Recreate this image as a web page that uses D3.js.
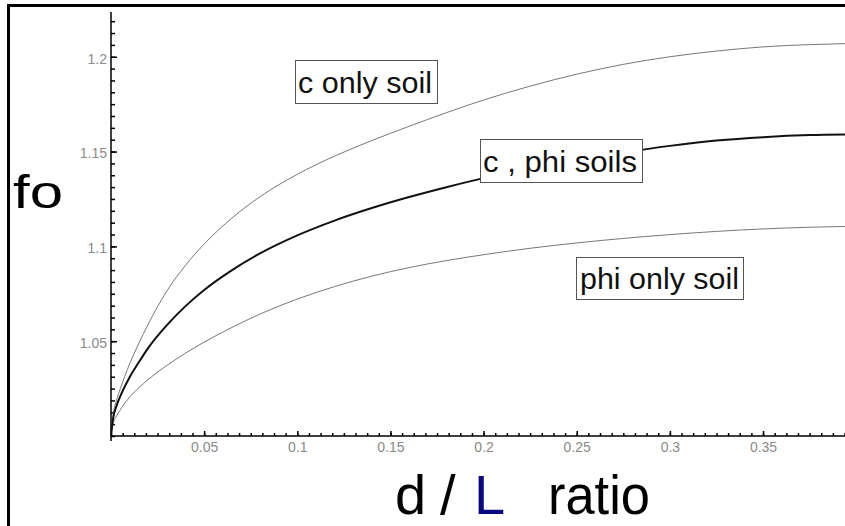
<!DOCTYPE html>
<html>
<head>
<meta charset="utf-8">
<script src="https://cdn.jsdelivr.net/npm/d3@7"></script>
<style>
  body { margin: 0; background: #fff; }
  svg { display: block; font-family: "Liberation Sans", Arial, sans-serif; }
  .domain { stroke: #000; stroke-width: 1.5; }
  .tick line { stroke: #000; stroke-width: 1.5; }
</style>
</head>
<body>
<div id="chart"></div>
<script>
// page size
var width = 845,
    height = 526;

// d / L ratio values the curves were read at
var ratio = [0, 0.001, 0.003, 0.005, 0.01, 0.015, 0.02, 0.03, 0.04, 0.05, 0.065, 0.08, 0.1,
             0.12, 0.14, 0.16, 0.18, 0.2, 0.225, 0.25, 0.275, 0.3, 0.325, 0.35, 0.375, 0.394];

// fo for the three soil types
var cOnly = [1.0, 1.010, 1.019, 1.025, 1.038, 1.049, 1.059, 1.0765, 1.090, 1.1012, 1.115, 1.1262, 1.138,
             1.1476, 1.1558, 1.1633, 1.1705, 1.1772, 1.1845, 1.1908, 1.196, 1.200, 1.203, 1.2052, 1.2064, 1.2069];
var cPhi = [1.0, 1.0085, 1.016, 1.021, 1.031, 1.039, 1.0465, 1.0585, 1.0685, 1.077, 1.0875, 1.0963, 1.1058,
            1.1136, 1.1202, 1.126, 1.1312, 1.136, 1.141, 1.1455, 1.1495, 1.153, 1.1558, 1.1576, 1.1587, 1.159];
var phiOnly = [1.0, 1.006, 1.0105, 1.0138, 1.0205, 1.0255, 1.0298, 1.0372, 1.0437, 1.0495, 1.0573, 1.0643, 1.0722,
               1.0788, 1.0843, 1.0888, 1.0925, 1.0956, 1.099, 1.1018, 1.1042, 1.1062, 1.1079, 1.1092, 1.1101, 1.1105];

// tick labels
var xTicks = [0.05, 0.1, 0.15, 0.2, 0.25, 0.3, 0.35];
var yTicks = [1.05, 1.1, 1.15, 1.2];

// curve labels
var labels = ["c only soil", "c , phi soils", "phi only soil"];

var svg = d3.select("#chart")
    .append("svg")
    .attr("width", width)
    .attr("height", height);

// frame lines on top and left
svg.append("line").attr("x1", 7).attr("x2", width).attr("y1", 5.5).attr("y2", 5.5)
    .attr("stroke", "#000").attr("stroke-width", 3);
svg.append("line").attr("x1", 8.5).attr("x2", 8.5).attr("y1", 4).attr("y2", height)
    .attr("stroke", "#000").attr("stroke-width", 3);

var x = d3.scaleLinear().domain([0, 0.394]).range([111, 845]);
var y = d3.scaleLinear().domain([1.0, 1.2236]).range([436, 12]);

// minor ticks every 1/8 of a major step
var xMinor = d3.range(0, 0.394, 0.00625);
var yMinor = d3.range(1.0, 1.2236, 0.00625);

svg.append("g")
    .attr("transform", "translate(0,436)")
    .call(d3.axisBottom(x).tickValues(xMinor).tickSize(-3).tickFormat(""))
    .select(".domain").remove();
var xAxis = svg.append("g")
    .attr("transform", "translate(0,436)")
    .call(d3.axisBottom(x).tickValues(xTicks).tickSize(-5).tickPadding(6)
        .tickFormat(d3.format("~g")));
xAxis.select(".domain").attr("d", "M111,0H845");

svg.append("g")
    .attr("transform", "translate(111,0)")
    .call(d3.axisLeft(y).tickValues(yMinor).tickSize(-4).tickFormat(""))
    .select(".domain").remove();
var yAxis = svg.append("g")
    .attr("transform", "translate(111,0)")
    .call(d3.axisLeft(y).tickValues(yTicks).tickSize(-6).tickPadding(4)
        .tickFormat(d3.format("~g")));
yAxis.select(".domain").attr("d", "M0,12V441");

svg.selectAll(".tick text")
    .attr("font-size", "14px")
    .attr("fill", "#8a8a8a");
yAxis.selectAll(".tick text").attr("dy", "0.45em");

// the three curves
var series = [
    { values: cOnly, color: "#777", w: 1 },
    { values: phiOnly, color: "#777", w: 1 },
    { values: cPhi, color: "#111", w: 2 }
];

var line = d3.line()
    .x(function(d, i) { return x(ratio[i]); })
    .y(function(d) { return y(d); })
    .curve(d3.curveMonotoneX);

svg.selectAll(".curve")
    .data(series)
    .enter()
    .append("path")
    .attr("class", "curve")
    .attr("fill", "none")
    .attr("stroke", function(d) { return d.color; })
    .attr("stroke-width", function(d) { return d.w; })
    .attr("d", function(d) { return line(d.values); });

// boxed labels (white fill hides the curve behind)
var boxes = [
    { x: 295, y: 60, w: 142, h: 43, tx: 298, ty: 92.5, tl: 134 },
    { x: 480, y: 139, w: 162, h: 43, tx: 483, ty: 171.5, tl: 154 },
    { x: 576, y: 257, w: 167, h: 42, tx: 580, ty: 289, tl: 159 }
];

var label = svg.selectAll(".label")
    .data(boxes)
    .enter()
    .append("g")
    .attr("class", "label");

label.append("rect")
    .attr("x", function(d) { return d.x + 0.5; })
    .attr("y", function(d) { return d.y + 0.5; })
    .attr("width", function(d) { return d.w; })
    .attr("height", function(d) { return d.h; })
    .attr("fill", "#fff")
    .attr("stroke", "#555")
    .attr("stroke-width", 1);

label.append("text")
    .attr("x", function(d) { return d.tx; })
    .attr("y", function(d) { return d.ty; })
    .attr("font-size", "29px")
    .attr("fill", "#111")
    .attr("textLength", function(d) { return d.tl; })
    .attr("lengthAdjust", "spacingAndGlyphs")
    .text(function(d, i) { return labels[i]; });

// axis titles
svg.append("text")
    .attr("x", 13)
    .attr("y", 208)
    .attr("font-size", "46px")
    .attr("textLength", 50)
    .attr("lengthAdjust", "spacingAndGlyphs")
    .text("fo");

var xTitle = svg.append("text")
    .attr("y", 514)
    .attr("font-size", "56px");
xTitle.append("tspan").attr("x", 395).text("d");
xTitle.append("tspan").attr("x", 440).text("/");
xTitle.append("tspan").attr("x", 474).attr("fill", "#0a0a80").text("L");
xTitle.append("tspan").attr("x", 548).attr("textLength", 102)
    .attr("lengthAdjust", "spacingAndGlyphs").text("ratio");
</script>
</body>
</html>
